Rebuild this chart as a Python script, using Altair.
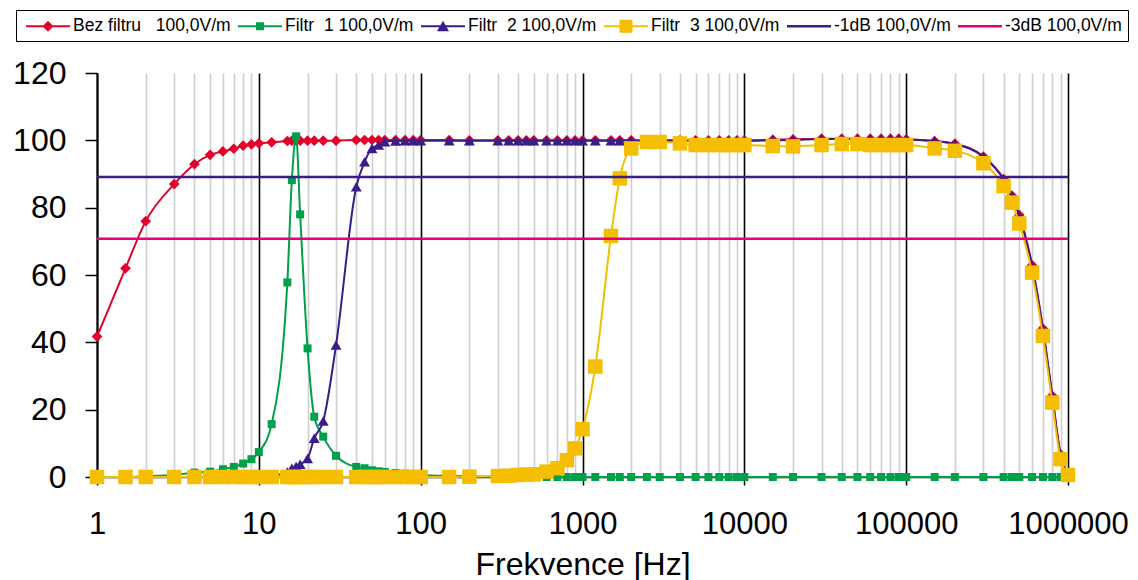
import altair as alt
import pandas as pd

# ---------------- data ----------------
freq = [1, 1.5, 2, 3, 4, 5, 6, 7, 8, 9,
        10, 12, 15, 16, 17, 18, 20, 22, 25, 30,
        40, 45, 50, 55, 60, 70, 80, 90, 100, 150,
        200, 300, 350, 400, 450, 500, 600, 700, 800, 900,
        1000, 1200, 1500, 1700, 2000, 2500, 3000, 4000, 5000, 6000,
        7000, 8000, 9000, 10000, 15000, 20000, 30000, 40000, 50000, 60000,
        70000, 80000, 90000, 100000, 150000, 200000, 300000, 400000, 450000, 500000,
        600000, 700000, 800000, 900000, 1000000]

bez_filtru = [41.7, 62.0, 76.0, 87.0, 92.9, 95.7, 96.7, 97.5, 98.4, 98.8,
              99.1, 99.4, 99.8, 99.9, 99.9, 99.9, 99.9, 99.9, 99.9, 99.9,
              100.1, 100.1, 100.1, 100.1, 100.1, 100.1, 100.1, 100.1, 100.1, 100.1,
              100.0, 100.0, 100.0, 100.0, 100.0, 100.0, 100.0, 100.0, 100.0, 100.0,
              100.0, 100.0, 100.0, 100.0, 100.0, 100.0, 100.0, 100.0, 100.0, 100.0,
              100.0, 100.0, 100.0, 100.0, 100.2, 100.3, 100.5, 100.5, 100.5, 100.5,
              100.5, 100.5, 100.5, 100.3, 99.8, 99.0, 95.2, 88.5, 83.6, 77.8,
              62.9, 44.1, 24.1, 6.7, 0.8]

filtr_1 = [0.0, 0.0, 0.2, 0.6, 1.3, 1.6, 2.3, 3.0, 4.0, 5.3,
           7.4, 15.7, 57.8, 88.2, 101.2, 78.0, 38.2, 17.9, 12.0, 6.3,
           3.0, 2.6, 2.0, 1.7, 1.5, 1.2, 1.0, 0.8, 0.6, 0.3,
           0.2, 0.1, 0.1, 0.1, 0.1, 0.1, 0.0, 0.0, 0.0, 0.0,
           0.0, 0.0, 0.0, 0.0, 0.0, 0.0, 0.0, 0.0, 0.0, 0.0,
           0.0, 0.0, 0.0, 0.0, 0.0, 0.0, 0.0, 0.0, 0.0, 0.0,
           0.0, 0.0, 0.0, 0.0, 0.0, 0.0, 0.0, 0.0, 0.0, 0.0,
           0.0, 0.0, 0.0, 0.0, 0.0]

filtr_2 = [0.0, 0.0, 0.0, 0.0, 0.0, 0.0, 0.0, 0.0, 0.0, 0.0,
           0.0, 0.3, 1.5, 2.6, 3.1, 3.8, 5.5, 11.5, 16.6, 39.2,
           86.2, 93.6, 97.6, 98.6, 99.6, 99.8, 99.9, 99.9, 99.9, 99.9,
           99.9, 99.9, 99.9, 99.9, 99.9, 99.9, 99.9, 99.9, 99.9, 99.9,
           99.9, 99.9, 99.9, 99.9, 99.9, 99.9, 99.9, 99.9, 99.9, 99.9,
           99.9, 99.9, 99.9, 99.9, 100.0, 100.1, 100.4, 100.4, 100.4, 100.4,
           100.4, 100.4, 100.4, 100.3, 99.8, 98.9, 95.1, 88.4, 83.5, 77.6,
           62.7, 43.9, 23.9, 6.5, 1.2]

filtr_3 = [0.0, 0.0, 0.0, 0.0, 0.0, 0.0, 0.0, 0.0, 0.0, 0.0,
           0.0, 0.0, 0.0, 0.0, 0.0, 0.0, 0.0, 0.0, 0.0, 0.0,
           0.0, 0.0, 0.0, 0.0, 0.0, 0.0, 0.0, 0.0, 0.0, 0.0,
           0.1, 0.3, 0.4, 0.6, 0.7, 0.8, 1.6, 2.6, 5.0, 8.5,
           14.2, 32.8, 71.6, 88.7, 97.6, 99.5, 99.5, 99.1, 98.6, 98.6,
           98.6, 98.6, 98.6, 98.6, 98.3, 98.2, 98.6, 98.9, 98.9, 98.6,
           98.6, 98.6, 98.6, 98.6, 97.6, 96.9, 93.2, 86.4, 81.5, 75.3,
           60.7, 41.9, 22.1, 5.3, 0.6]

db_freq = [1, 1000000]
minus_1db = [89.1, 89.1]
minus_3db = [70.8, 70.8]

series_names = ["Bez filtru\u00a0\u00a0 100,0V/m",
                "Filtr\u00a0 1 100,0V/m",
                "Filtr\u00a0 2 100,0V/m",
                "Filtr\u00a0 3 100,0V/m",
                "-1dB 100,0V/m",
                "-3dB 100,0V/m"]
series_colors = ["#e3002b", "#00a04a", "#3b1c88", "#f5be00", "#3b1c88", "#e6007a"]
x_ticks = [1, 10, 100, 1000, 10000, 100000, 1000000]
y_ticks = [0, 20, 40, 60, 80, 100, 120]

# ---------------- tables ----------------
rows = []
for name, vals in zip(series_names[:4], [bez_filtru, filtr_1, filtr_2, filtr_3]):
    for f, v in zip(freq, vals):
        rows.append({"f": f, "v": v, "s": name})
for name, vals in zip(series_names[4:], [minus_1db, minus_3db]):
    for f, v in zip(db_freq, vals):
        rows.append({"f": f, "v": v, "s": name})
df = pd.DataFrame(rows)

# gridline values: decades plus 2..9 x decade
grid_vals = []
for d in x_ticks[:-1]:
    for m in range(1, 10):
        grid_vals.append(d * m)
grid_vals.append(x_ticks[-1])

FONT = "Liberation Sans"
is_decade = "abs(log(datum.value)/LN10 - round(log(datum.value)/LN10)) < 1e-6"

x_axis = alt.Axis(
    values=grid_vals,
    labelExpr=f"({is_decade}) ? format(datum.value, 'd') : ''",
    labelOverlap=False, labelFlush=False, labelBound=False,
    labelFont=FONT, labelFontSize=31, labelColor="black", labelPadding=24,
    tickSize=8, tickWidth=1.5, tickColor="black",
    tickOpacity={"condition": {"test": is_decade, "value": 1}, "value": 0},
    grid=True,
    gridColor={"condition": {"test": is_decade, "value": "#000000"}, "value": "#cfcfcf"},
    gridWidth=1.6,
    domain=True, domainColor="black", domainWidth=1.5,
    title="Frekvence [Hz]", titleFont=FONT, titleFontSize=32,
    titleFontWeight="normal", titleColor="black", titlePadding=10,
)
y_axis = alt.Axis(
    values=y_ticks, labelFont=FONT, labelFontSize=32, labelColor="black",
    labelPadding=19, tickSize=12, tickWidth=1.5, tickColor="black",
    grid=False, domain=True, domainColor="black", domainWidth=2, title=None,
)

X = alt.X("f:Q", scale=alt.Scale(type="log", domain=[1, 1000000], nice=False), axis=x_axis)
Y = alt.Y("v:Q", scale=alt.Scale(domain=[0, 120], nice=False), axis=y_axis)

base = alt.Chart(df)

shapes = ["diamond", "square", "triangle-up", "square"]
sizes = [115, 64, 120, 210]

layers = []
for i, name in enumerate(series_names[:4]):
    sub = base.transform_filter(alt.datum.s == name)
    layers.append(sub.mark_line(color=series_colors[i], strokeWidth=2,
                                interpolate="monotone").encode(x=X, y=Y))
    layers.append(sub.mark_point(shape=shapes[i], filled=True, size=sizes[i],
                                 color=series_colors[i], opacity=1,
                                 strokeWidth=0).encode(x=X, y=Y))
for i, name in enumerate(series_names[4:]):
    sub = base.transform_filter(alt.datum.s == name)
    layers.append(sub.mark_line(color=series_colors[4 + i], strokeWidth=2.5).encode(x=X, y=Y))

# legend symbols: a line with the marker drawn over it
LINE = "M-2.2,-0.1H2.2V0.1H-2.2Z"
LINE_DB = "M-2.2,-0.13H2.2V0.13H-2.2Z"
legend_paths = [
    LINE + "M0,-0.55L0.55,0L0,0.55L-0.55,0Z",
    LINE + "M-0.4,-0.4H0.4V0.4H-0.4Z",
    LINE + "M0,-0.55L0.6,0.5H-0.6Z",
    LINE + "M-0.65,-0.65H0.65V0.65H-0.65Z",
    LINE_DB,
    LINE_DB,
]
legend = alt.Legend(
    title=None, orient="none", legendX=-81, legendY=-63,
    direction="horizontal", columns=6,
    symbolSize=400, symbolOffset=16, labelOffset=15,
    labelFont=FONT, labelFontSize=17.5, labelColor="black", labelLimit=400,
    strokeColor="black", fillColor="white", padding=6, columnPadding=3,
    symbolStrokeWidth=0, symbolOpacity=1,
)
carrier = base.transform_filter("datum.s == 'none'").mark_point(
    filled=True, opacity=1).encode(
    x=X, y=Y,
    color=alt.Color("s:N", scale=alt.Scale(domain=series_names, range=series_colors), legend=legend),
    shape=alt.Shape("s:N", scale=alt.Scale(domain=series_names, range=legend_paths), legend=legend),
)
layers.append(carrier)

chart = alt.layer(*layers).properties(
    width=971, height=404,
    autosize=alt.AutoSizeParams(type="none"),
    padding={"left": 89, "top": 65, "right": 62, "bottom": 103},
    background="white",
).configure_view(stroke=None)

chart.save("out.html", embed_options={"renderer": "svg", "actions": False})
